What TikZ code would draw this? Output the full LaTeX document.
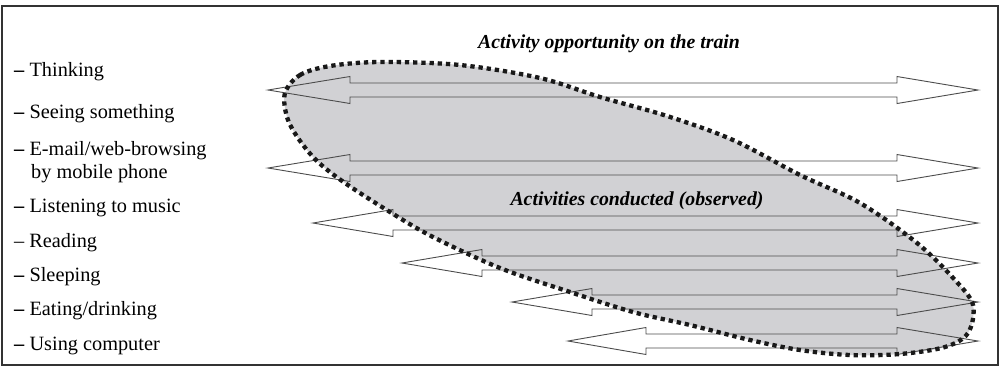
\documentclass[tikz,border=0pt]{standalone}
\usepackage{fontspec}
\setmainfont{Liberation Serif}
\begin{document}
\begin{tikzpicture}[x=1pt,y=-1pt,
  frame/.style={draw=black!80,line width=1.4pt},
  label/.style={anchor=base west,inner sep=0pt,font=\fontsize{20.3}{24}\selectfont},
  heading/.style={anchor=base,inner sep=0pt,font=\fontsize{19.8}{23}\selectfont\bfseries\itshape},
  arrowline/.style={draw=black!70,line width=0.9pt,line join=miter},
  blobfill/.style={fill=blobgray},
  blobrim/.style={draw=black!90,line width=4.3pt,dash pattern=on 4.3pt off 3.9pt,line cap=butt}]
\definecolor{blobgray}{HTML}{D1D1D4}
\useasboundingbox (0,0) rectangle (1000,368);

% outer frame
\draw[frame] (2,6) rectangle (998,365);

% list of activities
\node[label] (l1) at (14,76)  {\textbf{–} Thinking};
\node[label] (l2) at (14,118) {\textbf{–} Seeing something};
\node[label] (l3) at (14,155) {\textbf{–} E-mail/web-browsing};
\node[label] (l3b) at (31,178) {by mobile phone};
\node[label] (l4) at (14,212) {\textbf{–} Listening to music};
\node[label] (l5) at (14,247) {– Reading};
\node[label] (l6) at (14,281) {\textbf{–} Sleeping};
\node[label] (l7) at (14,315) {\textbf{–} Eating/drinking};
\node[label] (l8) at (14,350) {\textbf{–} Using computer};

% shaded region of observed activities
\def\blobpath{plot[smooth cycle,tension=0.55] coordinates {
  (285,93) (300,75) (330,66) (380,62) (460,65) (540,78) (600,97)
  (667,116) (733,140) (800,175) (860,203) (917,243) (955,280)
  (973,305) (968,333) (945,347) (900,354) (850,355) (800,350)
  (750,340) (690,325) (633,312) (567,291) (500,268) (433,237)
  (390,212) (345,183) (317,161) (298,138) (287,117)}}
\fill[blobfill] \blobpath;

% two-way arrows: #1 left tip, #2 left head base, #3 y
\newcommand{\twowayarrow}[3]{%
  \draw[arrowline] (#1,#3) -- (#2,#3-13.5) -- (#2,#3-7) -- (897,#3-7)
    -- (897,#3-13.5) -- (978,#3) -- (897,#3+13.5) -- (897,#3+7)
    -- (#2,#3+7) -- (#2,#3+13.5) -- cycle;}
\twowayarrow{268}{350}{90}
\twowayarrow{268}{350}{168}
\twowayarrow{313}{393}{223}
\twowayarrow{402}{482}{263}
\twowayarrow{512}{592}{302}
\twowayarrow{568}{646}{341}

\draw[blobrim] \blobpath;

% headings
\node[heading] (h1) at (609,48) {Activity opportunity on the train};
\node[heading] (h2) at (637,205) {Activities conducted (observed)};
\end{tikzpicture}
\end{document}
